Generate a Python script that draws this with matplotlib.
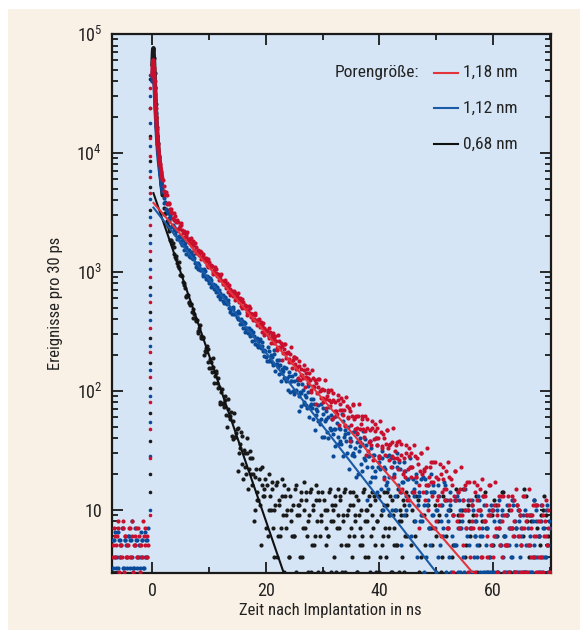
import numpy as np
import matplotlib
matplotlib.use("Agg")
import matplotlib.pyplot as plt
from matplotlib import font_manager
from matplotlib.patches import Rectangle
from matplotlib.ticker import FixedLocator, NullFormatter, LogLocator

# ---------------- font choice (condensed sans if available) ----------------
_fonts = font_manager.fontManager.ttflist
_names = {f.name for f in _fonts}
font_family, font_stretch = "Roboto", "normal"
for cand in ["Roboto Condensed", "Liberation Sans Narrow", "Open Sans Condensed", "Noto Sans Display"]:
    if cand in _names:
        font_family = cand
        break
else:
    for fam in ["Roboto", "Open Sans", "Noto Sans", "DejaVu Sans"]:
        cond = [f for f in _fonts if f.name == fam and str(f.stretch) in
                ("condensed", "semi-condensed", "extra-condensed", "75", "87.5", 75, 87.5)]
        if cond:
            font_family, font_stretch = fam, cond[0].stretch
            break

plt.rcParams['font.family'] = [font_family, 'DejaVu Sans']
plt.rcParams['font.stretch'] = font_stretch
plt.rcParams['mathtext.fontset'] = 'custom'
plt.rcParams['mathtext.rm'] = font_family
plt.rcParams['mathtext.it'] = font_family

# ---------------- data (counts per 30 ps) ----------------
series_names = ["1,18 nm", "1,12 nm", "0,68 nm"]
legend_title = "Porengröße:"

t_fast = [0.0, 0.1, 0.2, 0.3, 0.4, 0.5, 0.6, 0.7, 0.8, 0.9, 1.0, 1.2, 1.4, 1.6, 1.8]
red_fast = [45000, 58000, 60000, 52000, 40000, 31000, 24000, 19500, 16000, 13500, 11800, 9500, 8000, 6900, 5900]
blue_fast = [40000, 52000, 54000, 47000, 36000, 28000, 21500, 17000, 14000, 11800, 10000, 8000, 6600, 5500, 4700]
black_fast = [55000, 72000, 76000, 63000, 47000, 35000, 26000, 20000, 16500, 13800, 12000, 9300, 7200, 5600, 4400]

t_dense_a = np.arange(2.0, 20.01, 0.25)
t_dense_b = np.arange(2.125, 19.9, 0.25)
red_dense_a = [5283, 4427, 4385, 3774, 3780, 3185, 3125, 2728, 2946, 2617, 2621, 2352, 2566, 2250, 2193, 1946,
               2080, 1884, 1882, 1915, 1663, 1667, 1737, 1429, 1524, 1380, 1462, 1339, 1415, 1229, 1240, 1104,
               1210, 1093, 1110, 1003, 1103, 977, 964, 857, 915, 832, 835, 848, 736, 739, 772, 638,
               686, 624, 663, 610, 660, 557, 566, 493, 559, 497, 512, 456, 518, 450, 446, 390,
               431, 385, 391, 403, 342, 347, 371, 295, 326]
red_dense_b = [4782, 4685, 3705, 3748, 3381, 3348, 2851, 3123, 2691, 2704, 2270, 2410, 2456, 2112, 2152, 1986,
               2162, 1774, 1889, 1756, 1806, 1518, 1609, 1475, 1434, 1511, 1273, 1364, 1285, 1310, 1142, 1273,
               1114, 1136, 964, 1031, 1061, 923, 947, 874, 953, 784, 837, 777, 799, 673, 716, 661,
               646, 684, 578, 623, 587, 604, 512, 592, 507, 525, 431, 474, 496, 420, 439, 404,
               453, 360, 394, 363, 381, 311, 340, 310]
blue_dense_a = [3805, 3892, 3283, 3146, 2688, 2861, 2450, 2366, 2068, 2184, 1952, 1948, 1968, 1697, 1686, 1742,
                1420, 1514, 1361, 1441, 1314, 1382, 1191, 1189, 1049, 1147, 1029, 1038, 931, 1026, 910, 898,
                799, 853, 771, 771, 782, 679, 680, 710, 586, 627, 566, 600, 548, 578, 499, 501,
                445, 489, 441, 447, 399, 452, 390, 385, 335, 368, 328, 331, 340, 288, 292, 311,
                246, 271, 242, 262, 236, 255, 215, 219, 191]
blue_dense_b = [4160, 3379, 3264, 2860, 2981, 2373, 2461, 2242, 2270, 1886, 1986, 1819, 1761, 1841, 1536, 1625,
                1514, 1530, 1326, 1474, 1284, 1300, 1094, 1160, 1185, 1027, 1051, 966, 1050, 866, 924, 858,
                882, 741, 785, 721, 702, 739, 622, 667, 625, 635, 552, 615, 536, 544, 459, 490,
                504, 439, 451, 417, 464, 365, 398, 365, 381, 310, 337, 306, 299, 322, 262, 288,
                269, 277, 234, 271, 231, 238, 195, 214]
black_dense_a = [3410, 3105, 2670, 2415, 2225, 1870, 1710, 1620, 1320, 1285, 1110, 1080, 940, 925, 768, 725,
                 613, 642, 551, 536, 458, 491, 409, 388, 321, 340, 287, 280, 279, 217, 213, 225,
                 156, 176, 143, 159, 132, 147, 106, 108, 80, 103, 79, 84, 63, 85, 61, 61,
                 42, 56, 41, 44, 49, 30, 33, 42, 18, 30, 20, 30, 22, 31, 16, 20,
                 10, 22, 14, 18, 11, 23, 13, 15, 7]
black_dense_b = [3087, 3123, 2504, 2352, 1843, 1827, 1746, 1414, 1360, 1180, 1206, 932, 936, 820, 800, 626,
                 643, 560, 521, 540, 412, 441, 391, 390, 304, 355, 278, 282, 201, 227, 237, 175,
                 186, 155, 189, 117, 141, 117, 128, 78, 97, 77, 73, 91, 50, 70, 58, 66,
                 39, 65, 41, 48, 21, 36, 45, 24, 32, 23, 40, 15, 27, 20, 27, 8, 19, 12,
                 12, 22, 5, 16, 13, 18]

t_tail_a = np.arange(20.25, 70.01, 0.25)
t_tail_b = np.arange(20.375, 69.9, 0.25)
red_tail_a = [317, 280, 311, 278, 307, 253, 261, 222, 262, 227, 239, 206, 248, 208, 208, 174, 203, 175, 181, 192, 152, 157, 177, 124,
              151, 127, 150, 130, 152, 116, 123, 98, 129, 107, 116, 96, 126, 100, 102, 80, 102, 85, 91, 101, 74, 80, 96, 60,
              80, 64, 83, 69, 87, 62, 69, 51, 75, 59, 67, 52, 77, 58, 60, 44, 61, 48, 53, 61, 41, 46, 58, 31,
              47, 35, 49, 39, 53, 35, 40, 27, 45, 33, 40, 29, 47, 33, 35, 23, 37, 27, 31, 37, 22, 26, 36, 15,
              27, 19, 30, 22, 33, 19, 23, 14, 28, 19, 24, 16, 30, 20, 21, 12, 23, 16, 19, 25, 13, 17, 25, 8,
              18, 11, 20, 14, 23, 12, 15, 7, 19, 12, 16, 9, 21, 12, 14, 7, 15, 9, 12, 16, 7, 10, 17, 4,
              11, 7, 14, 9, 16, 7, 10, 4, 13, 8, 11, 6, 16, 9, 10, 4, 11, 7, 9, 13, 5, 8, 13, 3,
              9, 5, 11, 7, 13, 6, 8, 3, 11, 6, 9, 5, 13, 7, 8, 3, 9, 5, 7, 11, 4, 6, 11, 3,
              8, 4, 9, 6, 12, 5, 7, 3]
red_tail_b = [294, 335, 250, 296, 272, 291, 229, 295, 234, 253, 183, 223, 246, 189, 210, 184, 234, 155, 191, 168, 189, 127, 160, 136,
              135, 164, 108, 142, 127, 142, 101, 149, 109, 124, 78, 107, 125, 87, 104, 87, 124, 71, 98, 84, 101, 58, 83, 68,
              68, 92, 52, 78, 69, 82, 52, 89, 60, 72, 38, 61, 76, 48, 61, 49, 77, 37, 58, 48, 61, 29, 49, 37,
              38, 56, 26, 46, 40, 49, 28, 56, 34, 43, 18, 36, 47, 26, 36, 28, 49, 19, 35, 27, 38, 14, 29, 20,
              21, 35, 12, 28, 23, 30, 14, 35, 19, 27, 7, 21, 30, 14, 22, 16, 33, 10, 23, 17, 25, 7, 19, 12,
              13, 24, 6, 18, 15, 21, 7, 25, 12, 18, 3, 13, 21, 8, 14, 9, 23, 5, 15, 10, 17, 3, 12, 7,
              8, 17, 3, 12, 10, 15, 4, 18, 8, 13, 4, 9, 16, 5, 10, 6, 17, 3, 11, 7, 13, 4, 9, 5,
              5, 13, 3, 10, 7, 12, 3, 15, 6, 10, 3, 7, 13, 3, 9, 5, 15, 4, 9, 6, 11, 3, 8, 4,
              4, 11, 3, 8, 6, 10, 3]
blue_tail_a = [177, 215, 183, 194, 165, 203, 167, 168, 138, 164, 140, 146, 157, 120, 127, 145, 98, 121, 100, 120, 102, 122, 90, 97,
               75, 101, 81, 89, 71, 98, 75, 77, 58, 77, 62, 67, 76, 53, 58, 72, 41, 58, 45, 60, 49, 63, 43, 48,
               34, 54, 41, 48, 36, 56, 41, 43, 30, 44, 34, 38, 45, 28, 33, 43, 20, 34, 24, 36, 27, 39, 23, 28,
               17, 33, 23, 29, 19, 35, 23, 25, 15, 27, 19, 22, 28, 15, 19, 27, 10, 20, 13, 23, 16, 25, 14, 17,
               9, 21, 13, 18, 11, 23, 14, 15, 8, 17, 11, 13, 18, 8, 11, 18, 4, 12, 7, 14, 9, 16, 7, 10,
               4, 13, 8, 11, 6, 16, 9, 10, 4, 11, 6, 9, 12, 5, 7, 12, 3, 8, 4, 10, 7, 12, 5, 7,
               3, 10, 6, 8, 4, 12, 6, 7, 3, 8, 5, 7, 10, 3, 5, 10, 3, 6, 3, 8, 5, 10, 4, 6,
               3, 9, 5, 7, 4, 11, 6, 7, 3, 8, 4, 6, 9, 3, 5, 9, 3, 6, 3, 8, 5, 10, 4, 6,
               3, 8, 4, 7, 4, 11, 5, 7]
blue_tail_b = [234, 179, 199, 173, 221, 146, 180, 159, 180, 120, 152, 128, 127, 155, 101, 134, 120, 134, 94, 139, 100, 114, 68, 96,
               113, 77, 92, 76, 110, 60, 85, 71, 86, 47, 70, 56, 56, 77, 41, 64, 56, 67, 40, 73, 47, 58, 28, 48,
               61, 36, 49, 38, 64, 28, 47, 38, 50, 22, 40, 29, 30, 46, 19, 37, 31, 40, 21, 46, 26, 35, 12, 28,
               38, 19, 29, 21, 40, 14, 28, 22, 31, 10, 23, 16, 17, 29, 9, 23, 19, 25, 10, 30, 15, 22, 5, 17,
               25, 10, 18, 12, 27, 6, 18, 13, 20, 4, 14, 8, 9, 19, 3, 14, 11, 16, 5, 20, 9, 14, 3, 10,
               16, 5, 11, 7, 17, 3, 12, 8, 14, 3, 9, 5, 5, 13, 3, 10, 7, 12, 3, 15, 6, 10, 3, 7,
               12, 4, 8, 5, 13, 3, 9, 6, 11, 3, 7, 3, 4, 11, 3, 8, 6, 10, 3, 12, 5, 9, 3, 6,
               11, 3, 7, 4, 12, 3, 8, 5, 10, 3, 7, 3, 3, 10, 3, 7, 5, 9, 3, 12, 4, 8, 3, 6,
               11, 3, 7, 4, 10, 3, 8]

t_black_tail_a = np.arange(20.25, 45.01, 0.25)
t_black_tail_b = np.arange(20.375, 44.9, 0.25)
black_tail_a = [16, 10, 13, 17, 7, 10, 16, 4, 11, 6, 13, 9, 16, 7, 10, 4, 13, 8, 11, 6,
                16, 9, 11, 4, 12, 7, 10, 14, 6, 8, 14, 3, 10, 5, 12, 8, 14, 6, 9, 3,
                12, 7, 10, 6, 15, 8, 10, 4, 11, 7, 9, 13, 5, 8, 14, 3, 9, 5, 11, 7,
                14, 6, 9, 3, 12, 7, 10, 5, 15, 8, 10, 4, 11, 6, 9, 13, 5, 8, 13, 3,
                9, 5, 11, 7, 14, 6, 9, 3, 12, 7, 10, 5, 15, 8, 9, 4, 11, 6, 9, 13]
black_tail_b = [6, 20, 10, 15, 4, 11, 17, 6, 12, 7, 18, 3, 13, 9, 15, 4, 10, 6, 6, 15,
                3, 11, 9, 14, 4, 17, 7, 12, 3, 9, 15, 5, 11, 6, 16, 3, 12, 8, 14, 3,
                10, 5, 6, 14, 3, 11, 8, 13, 3, 15, 7, 12, 3, 9, 15, 5, 10, 6, 14, 4,
                11, 8, 13, 3, 9, 5, 6, 14, 4, 10, 8, 13, 3, 14, 7, 12, 3, 8, 13, 4,
                10, 6, 14, 4, 11, 7, 13, 3, 9, 5, 5, 13, 3, 10, 8, 12, 3, 14, 6]
t_black_tail2_a = np.arange(45.5, 70.01, 0.5)
t_black_tail2_b = np.arange(45.75, 69.8, 0.5)
black_tail2_a = [5, 8, 13, 3, 9, 5, 11, 7, 14, 6, 9, 4, 12, 7, 10, 5, 15, 8, 10, 4,
                 11, 6, 9, 13, 5, 8, 14, 3, 9, 5, 11, 7, 14, 6, 9, 3, 12, 7, 10, 5,
                 15, 8, 9, 4, 11, 6, 9, 13, 5, 8]
black_tail2_b = [10, 6, 12, 4, 9, 14, 7, 5, 11, 8, 3, 13, 6, 10, 4, 12, 9, 7, 15, 5,
                 8, 11, 6, 3, 10, 13, 7, 4, 9, 12, 6, 8, 14, 5, 10, 7, 3, 11, 9, 6,
                 13, 4, 8, 12, 7, 5, 10, 9, 6]

t_pre_a = np.arange(-7.0, -0.74, 0.25)
t_pre_b = np.arange(-6.875, -0.8, 0.25)
red_pre_a = [5, 7, 4, 6, 8, 4, 5, 7, 3, 6, 4, 5, 7, 4, 8, 5, 6, 4, 7, 3, 5, 4, 6, 7, 4, 5]
red_pre_b = [4, 6, 5, 7, 3, 5, 4, 8, 6, 4, 5, 7, 4, 6, 3, 5, 7, 4, 6, 5, 4, 8, 5, 4, 6]
blue_pre_a = [3.2, 5.6, 6.5, 4, 3.2, 5.6, 5, 7, 3.2, 5.6, 4, 6, 3.2, 5.6, 8, 3.2, 5, 5.6, 4, 3.2, 6.5, 5.6, 3.2, 4, 5.6, 7]
blue_pre_b = [5.6, 4, 3.2, 6.5, 5.6, 4, 7, 3.2, 5.6, 5, 3.2, 6, 5.6, 4, 3.2, 7, 5.6, 3.2, 5, 4, 5.6, 3.2, 6.5, 5.6, 4]

t_edge = -0.45
red_edge = [9, 27, 48, 80, 130, 210, 340, 560, 900, 1500, 2500, 4600, 6300, 9400, 13400, 24000, 35000]
blue_edge = [10, 28, 55, 90, 150, 240, 390, 640, 1050, 1750, 2900, 4100, 7000, 11500, 18000, 30000, 45000]
black_edge = [14, 20, 38, 65, 105, 170, 280, 460, 750, 1250, 2050, 3300, 5200, 8500, 14000, 24000, 42000]

# exponential fits: amplitude (counts at t=0) and lifetime (ns)
fit_amp = {"red": 3900, "blue": 3570, "black": 4890}
fit_tau = {"red": 7.85, "blue": 7.05, "black": 3.12}
fit_start = 0.2

x_ticks = [0, 20, 40, 60]
x_minor = [10, 30, 50, 70]
y_ticks = [10, 100, 1000, 10000, 100000]
y_ticklabels = ["10", r"$10^{2}$", r"$10^{3}$", r"$10^{4}$", r"$10^{5}$"]
x_label = "Zeit nach Implantation in ns"
y_label = "Ereignisse pro 30 ps"

# ---------------- styling ----------------
c_red, c_blue, c_black = "#c8102e", "#0a4b99", "#1a1a1a"
c_red_line, c_blue_line, c_black_line = "#e5333b", "#1b5aa6", "#111111"
bg_fig, bg_ax = "#faf1e6", "#d5e5f5"
txt = "#222222"

fig = plt.figure(figsize=(5.8, 6.32), dpi=100)
fig.patch.set_facecolor("white")
fig.patches.append(Rectangle((8 / 580, 2 / 632), 1 - 8 / 580, (623 - 2) / 632,
                             transform=fig.transFigure, facecolor=bg_fig,
                             edgecolor="none", zorder=-10))

ax = fig.add_axes([112 / 580, 1 - 572.7 / 632, (551 - 112) / 580, (572.7 - 34) / 632])
ax.set_facecolor(bg_ax)
ax.set_yscale("log")
ax.set_xlim(-7.1, 70.2)
ax.set_ylim(2.95, 1e5)

ms = 3.0
series = [
    (c_black, "black", t_fast, black_fast,
     [(t_dense_a, black_dense_a), (t_dense_b, black_dense_b),
      (t_black_tail_a, black_tail_a), (t_black_tail_b, black_tail_b),
      (t_black_tail2_a, black_tail2_a), (t_black_tail2_b, black_tail2_b)], black_edge),
    (c_blue, "blue", t_fast, blue_fast,
     [(t_dense_a, blue_dense_a), (t_dense_b, blue_dense_b),
      (t_tail_a, blue_tail_a), (t_tail_b, blue_tail_b),
      (t_pre_a, blue_pre_a), (t_pre_b, blue_pre_b)], blue_edge),
    (c_red, "red", t_fast, red_fast,
     [(t_dense_a, red_dense_a), (t_dense_b, red_dense_b),
      (t_tail_a, red_tail_a), (t_tail_b, red_tail_b),
      (t_pre_a, red_pre_a), (t_pre_b, red_pre_b)], red_edge),
]
for col, key, tf, yf, parts, edge in series:
    ax.plot(tf, yf, "-", color=col, lw=3.0, solid_capstyle="round", zorder=3)
    ax.plot(tf, yf, "o", color=col, ms=ms, mew=0, zorder=3)
    for tt, yy in parts:
        ax.plot(tt, yy, "o", color=col, ms=ms, mew=0, zorder=3)
    ax.plot([t_edge] * len(edge), edge, "o", color=col, ms=2.6, mew=0, zorder=3)

line_cols = {"red": c_red_line, "blue": c_blue_line, "black": c_black_line}
for key in ["black", "blue", "red"]:
    tl = np.linspace(fit_start, 70, 300)
    ax.plot(tl, fit_amp[key] * np.exp(-tl / fit_tau[key]), "-", color=line_cols[key],
            lw=1.5, zorder=4)

# ticks
ax.xaxis.set_major_locator(FixedLocator(x_ticks))
ax.xaxis.set_minor_locator(FixedLocator(x_minor))
ax.yaxis.set_major_locator(FixedLocator(y_ticks))
ax.set_yticklabels(y_ticklabels)
ax.yaxis.set_minor_locator(LogLocator(base=10, subs=np.arange(2, 10)))
ax.yaxis.set_minor_formatter(NullFormatter())
ax.tick_params(which="both", direction="in", top=True, right=True, color="#1a1a1a",
               width=1.3, labelsize=13, labelcolor=txt)
ax.tick_params(which="major", length=8, pad=7)
ax.tick_params(which="minor", length=4.5)
for s in ax.spines.values():
    s.set_linewidth(1.6)
    s.set_color("#1a1a1a")

ax.set_xlabel(x_label, fontsize=12, color=txt)
ax.xaxis.set_label_coords(0.4966, -0.057)
ax.set_ylabel(y_label, fontsize=12, color=txt)
ax.yaxis.set_label_coords(-0.112, 0.5)

# legend (manual layout)
ax.text(0.700, 0.928, legend_title, transform=ax.transAxes, ha="right", va="center",
        fontsize=12.5, color=txt)
leg_cols = [c_red_line, c_blue_line, c_black_line]
leg_y = [0.928, 0.862, 0.796]
for name, col, yy in zip(series_names, leg_cols, leg_y):
    ax.plot([0.734, 0.788], [yy, yy], color=col, lw=1.5, transform=ax.transAxes, zorder=5)
    ax.text(0.800, yy, name, transform=ax.transAxes, ha="left", va="center",
            fontsize=12.5, color=txt)

fig.savefig("out.png", dpi=100, facecolor=fig.get_facecolor())
